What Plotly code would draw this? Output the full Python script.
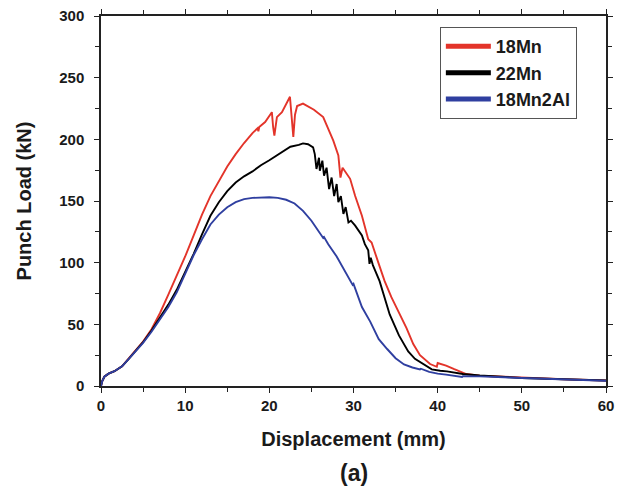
import plotly.graph_objects as go

# 18Mn (red)
x_18mn = [0, 0.15, 0.4, 0.9, 1.6, 2.5, 3.3, 4, 5, 6, 7, 8, 9, 10, 11, 12, 13, 14, 15, 16, 17, 18,
          18.6, 18.7, 18.8, 19.5, 20.3, 20.45, 20.6, 20.9, 21.5, 22.45, 22.6, 22.85, 23.05, 23.3,
          24.0, 25.3, 26.4, 27.6, 28.2, 28.45, 28.7, 29.0, 29.6, 30.2, 31.0, 31.75, 32.15, 32.95,
          33.7, 34.5, 35.5, 36.3, 37.1, 37.9, 39.1, 39.9, 40.0, 41.0, 41.9, 43.4, 45, 47.4, 50, 55, 60]
y_18mn = [0, 4, 7.5, 10, 12, 16, 22.5, 28, 36, 46, 59, 74, 89, 105, 122, 139, 154, 166, 178, 188, 197, 205,
          209, 206.5, 210, 214, 222, 210, 203, 218, 222, 234.5, 222, 202, 220, 227,
          229, 224, 218, 199, 187, 169, 177, 174, 168, 154, 138, 119, 116.4, 100,
          85, 72, 58, 47, 34, 25, 17.8, 15.6, 18.6, 16.5, 13.8, 9.7, 8.3, 7.5, 6.8, 5.5, 4.5]

# 22Mn (black)
x_22mn = [0, 0.15, 0.4, 0.9, 1.6, 2.5, 3.3, 4, 5, 6, 7, 8, 9, 10, 11, 12, 13, 14, 15, 16, 17, 18, 19,
          20, 21, 22, 22.5, 23.5, 24.0, 24.6, 25.2, 25.4, 25.6, 25.9, 26.0, 26.3, 26.5, 26.8, 27.1,
          27.4, 27.7, 28.0, 28.2, 28.5, 28.8, 29.07, 29.4, 29.7, 30.2, 31.0, 31.35, 31.75, 31.9,
          32.05, 32.3, 33.1, 34.3, 35.4, 36.5, 37.3, 38.3, 39.1, 39.3, 40.3, 41.1, 43.0, 45, 50, 55, 60]
y_22mn = [0, 4, 7.5, 10, 12, 16, 22, 27.5, 35.5, 45, 55, 66, 78, 92, 107, 123, 138, 149, 158, 165, 170,
          174, 179, 183, 187.5, 192, 194, 195.5, 196.7, 196, 193.5, 188, 176, 185, 174.6, 182.7,
          170.5, 177, 159.7, 169, 154, 163.8, 149, 154, 139.5, 145, 132.6, 134, 130, 122, 115,
          110, 99, 104, 98, 85, 58, 41, 28, 22, 17.8, 15, 13.5, 12.4, 11.9, 9.7, 8.5, 6.5, 5.5, 4.5]

# 18Mn2Al (blue)
x_18mn2al = [0, 0.15, 0.4, 0.9, 1.6, 2.5, 3.3, 4, 5, 6, 7, 8, 9, 10, 11, 12, 13, 14, 15, 16, 17, 18, 19,
             20, 21, 22, 23, 24, 25, 26, 26.4, 26.5, 27, 28, 29, 29.9, 30.0, 31, 32, 33, 34, 35, 36,
             37, 37.9, 38.0, 39, 40, 41, 42, 42.9, 43.0, 45, 50, 55, 60]
y_18mn2al = [0, 4, 7.5, 10, 12, 16, 22, 27, 35, 44, 54, 64, 76, 91, 106, 119, 131, 139, 145, 149, 151.5,
             152.5, 153, 153, 152.5, 151, 148, 142, 134, 124, 120, 120.8, 115, 105, 93, 82, 82.8, 64,
             52, 38, 30, 22.5, 17.5, 15, 13.5, 14, 11.5, 10, 9.2, 8.5, 7.3, 7.9, 7.8, 6.5, 5.3, 4.3]

names = ["18Mn", "22Mn", "18Mn2Al"]
colors = ["#e3342a", "#000000", "#2f3fa0"]
xs = [x_18mn, x_22mn, x_18mn2al]
ys = [y_18mn, y_22mn, y_18mn2al]

x_ticks = [0, 10, 20, 30, 40, 50, 60]
y_ticks = [0, 50, 100, 150, 200, 250, 300]

fig = go.Figure()
for xv, yv, c in zip(xs, ys, colors):
    fig.add_trace(go.Scatter(x=xv, y=yv, mode="lines", line=dict(color=c, width=1.9),
                             showlegend=False, hoverinfo="skip"))
for n, c in zip(names, colors):
    fig.add_trace(go.Scatter(x=[None], y=[None], mode="lines", name=n,
                             line=dict(color=c, width=5)))

FONT = "Liberation Sans, Arial"
axis_font = dict(family=FONT, size=15, color="#1a1a1a", weight="bold")
title_font = dict(family=FONT, size=20, color="#1a1a1a", weight="bold")

fig.update_layout(
    width=623, height=479,
    margin=dict(l=93, r=25, t=8, b=101, autoexpand=False),
    plot_bgcolor="white", paper_bgcolor="white",
    xaxis=dict(range=[0, 60], tickvals=x_ticks, ticks="outside", ticklen=5, tickwidth=1,
               tickcolor="#222", showline=True, linecolor="#222", linewidth=1.5, mirror="ticks",
               showgrid=False, zeroline=False, tickfont=axis_font, ticklabeloverflow="allow",
               minor=dict(dtick=5, ticks="outside", ticklen=4, tickcolor="#222", showgrid=False),
               title=dict(text="Displacement (mm)", font=title_font, standoff=19)),
    yaxis=dict(range=[0, 300], tickvals=y_ticks, ticks="outside", ticklen=5, tickwidth=1,
               tickcolor="#222", showline=True, linecolor="#222", linewidth=1.5, mirror="ticks",
               showgrid=False, zeroline=False, tickfont=axis_font, ticklabeloverflow="allow",
               ticklabelstandoff=7,
               minor=dict(dtick=25, ticks="outside", ticklen=4, tickcolor="#222", showgrid=False),
               title=dict(text="Punch Load (kN)", font=title_font, standoff=22)),
    legend=dict(x=0.671, y=0.97, xanchor="left", yanchor="top", bgcolor="white",
                bordercolor="#555", borderwidth=1,
                font=dict(family=FONT, size=18, color="#1a1a1a", weight="bold"),
                itemwidth=45, tracegroupgap=0),
    annotations=[dict(text="(a)", xref="paper", yref="paper", x=0.5, y=-0.236, xanchor="center",
                      yanchor="middle", showarrow=False,
                      font=dict(family=FONT, size=23, color="#1a1a1a", weight="bold"))],
)

fig.write_html("out.html")
